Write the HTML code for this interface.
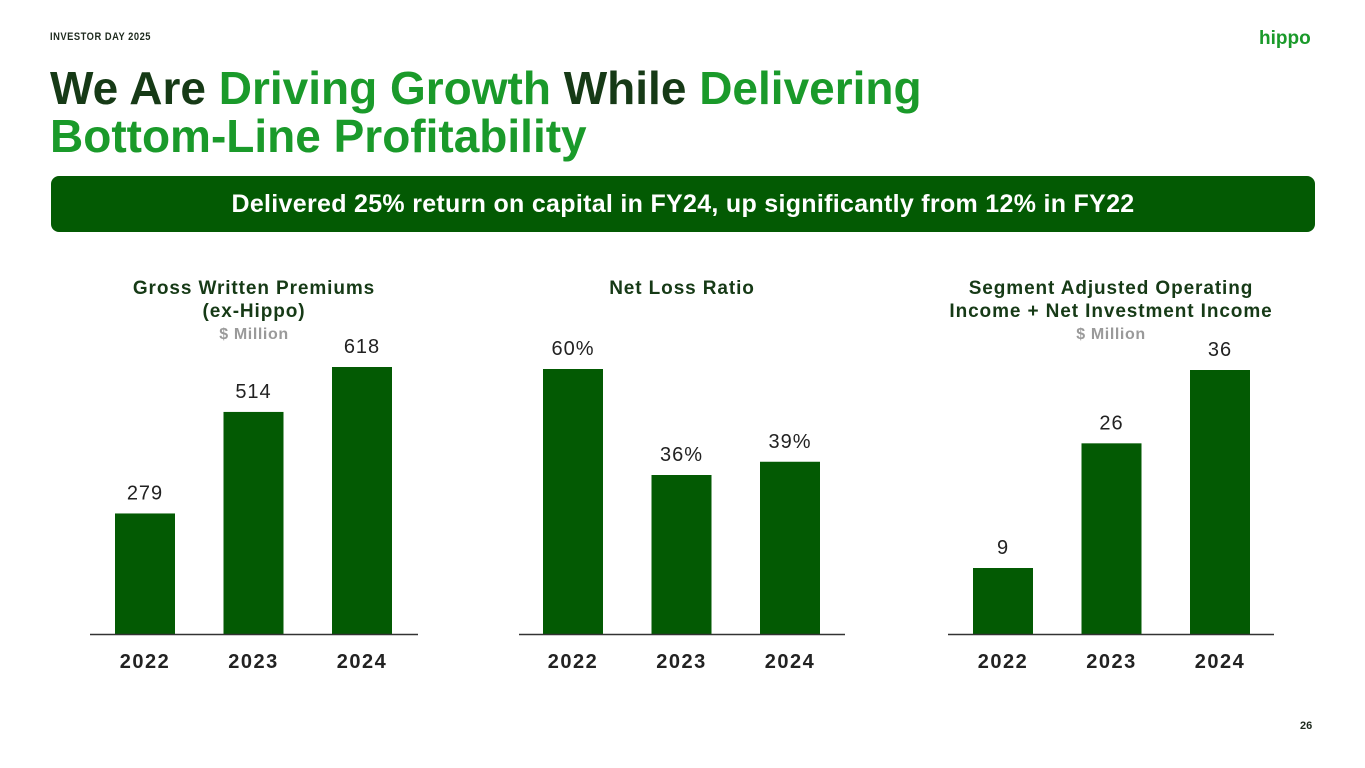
<!DOCTYPE html>
<html><head><meta charset="utf-8"><style>
body{margin:0;width:1365px;height:768px;background:#fff;font-family:"Liberation Sans",sans-serif;position:relative;overflow:hidden}
.abs{position:absolute}
</style></head><body>
<div class="abs" style="left:50px;top:31px;font-size:11px;letter-spacing:0.6px;color:#1e2a1e;font-weight:bold;transform:scaleX(0.85);transform-origin:left">INVESTOR DAY 2025</div>
<div class="abs" style="left:1259px;top:28px;font-size:19px;font-weight:bold;color:#1a9a2a">hippo</div>
<div class="abs" style="left:50px;top:64px;font-size:46px;font-weight:bold;line-height:48px;color:#163a16"><span>We Are </span><span style="color:#1a9a2a">Driving Growth</span><span> While </span><span style="color:#1a9a2a">Delivering<br>Bottom-Line Profitability</span></div>
<div class="abs" style="left:51px;top:176px;width:1264px;height:56px;background:#035a03;border-radius:8px;color:#fff;font-size:25px;letter-spacing:0.3px;font-weight:bold;text-align:center;line-height:56px">Delivered 25% return on capital in FY24, up significantly from 12% in FY22</div>
<svg class="abs" style="left:0;top:0" width="1365" height="768" id="svg"></svg>
<div class="abs" style="left:1300px;top:720px;font-size:11px;font-weight:bold;color:#1e2a1e">26</div>
<script>
const years = ["2022","2023","2024"];
const gwpValues = [279,514,618];
const lossValues = [60,36,39];
const incomeValues = [9,26,36];
const gwpLabels = ["279","514","618"];
const lossLabels = ["60%","36%","39%"];
const incomeLabels = ["9","26","36"];
const svg=document.getElementById('svg');
const NS='http://www.w3.org/2000/svg';
function mk(t,a,txt){const e=document.createElementNS(NS,t);for(const k in a)e.setAttribute(k,a[k]);if(txt!=null)e.textContent=txt;svg.appendChild(e);return e;}
const charts=[
 {vals:gwpValues,labels:gwpLabels,x0:90,x1:418,first:115,scale:267/618,name:'gwp',title:['Gross Written Premiums','(ex-Hippo)'],sub:'$ Million'},
 {vals:lossValues,labels:lossLabels,x0:519,x1:845,first:543,scale:265/60,name:'loss-ratio',title:['Net Loss Ratio'],sub:null},
 {vals:incomeValues,labels:incomeLabels,x0:948,x1:1274,first:973,scale:264/36,name:'income',title:['Segment Adjusted Operating','Income + Net Investment Income'],sub:'$ Million'}];
const base=634;
charts.forEach(c=>{
 const cx=(c.x0+c.x1)/2;
 c.title.forEach((t,i)=>{const e=mk('text',{x:cx,y:294+i*23,'text-anchor':'middle','font-size':19,'letter-spacing':0.9,'font-weight':'bold',fill:'#163a16'},t);
 
 });
 if(c.sub){const e=mk('text',{x:cx,y:339,'text-anchor':'middle','font-size':16,'letter-spacing':0.6,'font-weight':'bold',fill:'#9a9a9a'},c.sub);
 
 }
 c.vals.forEach((v,i)=>{
  const x=c.first+i*108.5,h=v*c.scale;
  const r=mk('rect',{x:x,y:base-h,width:60,height:h,fill:'#035a03'});
  
  
  const l=mk('text',{x:x+30,y:base-h-14,'text-anchor':'middle','font-size':20,'letter-spacing':1,fill:'#222'},c.labels[i]);
  
  
  const y=mk('text',{x:x+30,y:668,'text-anchor':'middle','font-size':20,'letter-spacing':1.5,'font-weight':'bold',fill:'#222'},years[i]);
  
  
 });
 const ax=mk('line',{x1:c.x0,x2:c.x1,y1:base+0.5,y2:base+0.5,stroke:'#333','stroke-width':1.5});
 
 
});
</script>
</body></html>
